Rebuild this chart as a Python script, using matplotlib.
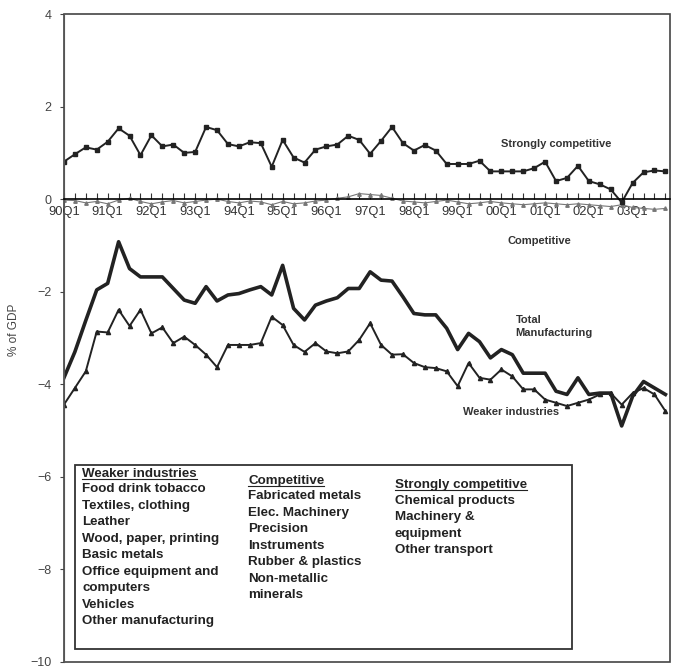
import matplotlib.pyplot as plt
import numpy as np
from matplotlib.lines import Line2D
from matplotlib.patches import Rectangle

plt.rcParams['font.family'] = ['Liberation Sans', 'DejaVu Sans']

# quarterly data, 1990Q1 - 2003Q4, % of GDP
strongly = [0.81, 0.97, 1.12, 1.07, 1.24, 1.53, 1.37, 0.95, 1.38, 1.14,
            1.18, 1.00, 1.02, 1.56, 1.49, 1.19, 1.14, 1.23, 1.21, 0.70,
            1.28, 0.90, 0.79, 1.07, 1.14, 1.18, 1.37, 1.28, 0.98, 1.26,
            1.56, 1.21, 1.05, 1.17, 1.05, 0.76, 0.76, 0.76, 0.83, 0.60,
            0.60, 0.60, 0.60, 0.67, 0.81, 0.39, 0.46, 0.72, 0.39, 0.32,
            0.21, -0.07, 0.35, 0.58, 0.62, 0.60]
competitive = [-0.02, -0.03, -0.08, -0.05, -0.10, -0.02, 0.02, -0.05, -0.10, -0.06,
               -0.03, -0.08, -0.05, -0.02, 0.00, -0.05, -0.08, -0.04, -0.06, -0.12,
               -0.05, -0.10, -0.08, -0.04, -0.02, 0.02, 0.05, 0.12, 0.10, 0.08,
               0.02, -0.04, -0.06, -0.08, -0.05, -0.02, -0.06, -0.10, -0.08, -0.05,
               -0.08, -0.10, -0.12, -0.10, -0.08, -0.10, -0.12, -0.10, -0.12, -0.14,
               -0.16, -0.12, -0.18, -0.20, -0.22, -0.20]
total = [-3.86, -3.30, -2.62, -1.96, -1.82, -0.92, -1.50, -1.68, -1.68, -1.68,
         -1.93, -2.18, -2.25, -1.89, -2.20, -2.07, -2.04, -1.96, -1.89, -2.07,
         -1.43, -2.36, -2.61, -2.29, -2.20, -2.13, -1.93, -1.93, -1.57, -1.75,
         -1.77, -2.11, -2.47, -2.50, -2.50, -2.79, -3.25, -2.90, -3.08, -3.43,
         -3.25, -3.36, -3.76, -3.76, -3.76, -4.15, -4.22, -3.86, -4.22, -4.19,
         -4.19, -4.90, -4.26, -3.94, -4.08, -4.22]
weaker = [-4.44, -4.08, -3.72, -2.86, -2.88, -2.39, -2.74, -2.39, -2.90, -2.77,
          -3.11, -2.97, -3.15, -3.36, -3.63, -3.15, -3.15, -3.15, -3.11, -2.54,
          -2.72, -3.15, -3.30, -3.11, -3.29, -3.33, -3.29, -3.04, -2.68, -3.15,
          -3.36, -3.35, -3.54, -3.63, -3.65, -3.72, -4.04, -3.54, -3.86, -3.90,
          -3.68, -3.83, -4.11, -4.11, -4.33, -4.40, -4.47, -4.40, -4.33, -4.22,
          -4.19, -4.44, -4.19, -4.08, -4.22, -4.58]
tick_labels = ['90Q1', '91Q1', '92Q1', '93Q1', '94Q1', '95Q1', '96Q1',
               '97Q1', '98Q1', '99Q1', '00Q1', '01Q1', '02Q1', '03Q1']

weaker_list = ['Food drink tobacco', 'Textiles, clothing', 'Leather',
               'Wood, paper, printing', 'Basic metals', 'Office equipment and',
               'computers', 'Vehicles', 'Other manufacturing']
competitive_list = ['Fabricated metals', 'Elec. Machinery', 'Precision',
                    'Instruments', 'Rubber & plastics', 'Non-metallic', 'minerals']
strongly_list = ['Chemical products', 'Machinery &', 'equipment', 'Other transport']

x = np.arange(len(strongly))
ink = '#222222'

fig = plt.figure(figsize=(6.8, 6.68), dpi=100)
ax = fig.add_axes([0.094, 0.009, 0.891, 0.970])

ax.plot(x, competitive, color='#777777', lw=0.8, marker='^', ms=2.5)
ax.plot(x, strongly, color=ink, lw=1.4, marker='s', ms=2.5)
ax.plot(x, total, color=ink, lw=2.6)
ax.plot(x, weaker, color=ink, lw=1.4, marker='^', ms=3)

ax.set_xlim(0, len(x) - 0.6)
ax.set_ylim(-10, 4)
ax.set_yticks(np.arange(-10, 5, 2))
ax.tick_params(axis='y', direction='out', length=3, labelsize=9, colors='#444444',
               width=0.8, pad=6)

# x axis along the zero line, box drawn around the plot
for s in ['top', 'right']:
    ax.spines[s].set_visible(False)
ax.spines['bottom'].set_position(('data', 0))
ax.spines['bottom'].set_linewidth(1.2)
ax.spines['left'].set_color('#555555')
ax.add_patch(Rectangle((0, 0), 1, 1, transform=ax.transAxes, fill=False,
                       lw=1.2, ec='#444444', clip_on=False))
ax.set_xticks(x, minor=True)
ax.set_xticks(x[::4])
ax.set_xticklabels(tick_labels)
ax.tick_params(axis='x', which='both', direction='in', length=4, width=0.8,
               labelsize=9.3, colors='#333333', pad=5)

ax.set_ylabel('% of GDP', fontsize=8.5, color='#444444')
ax.yaxis.set_label_coords(-0.073, 0.512)

lab = dict(fontsize=8, color='#333333', fontweight='bold')
ax.text(45, 1.19, 'Strongly competitive', ha='center', va='center', **lab)
ax.text(43.5, -0.9, 'Competitive', ha='center', va='center', **lab)
ax.text(41.3, -2.75, 'Total\nManufacturing', ha='left', va='center',
        linespacing=1.3, **lab)
ax.text(40.9, -4.6, 'Weaker industries', ha='center', va='center', **lab)

# category box
ax.add_patch(Rectangle((0.018, 0.02), 0.82, 0.284, transform=ax.transAxes,
                       fill=False, lw=1.3, ec='#333333'))
box = dict(fontsize=9.6, color='#222222', fontweight='bold', va='top',
           ha='left', transform=ax.transAxes, linespacing=1.5)
cols = [(0.030, 0.299, 0.276, 'Weaker industries', weaker_list),
        (0.304, 0.289, 0.265, 'Competitive', competitive_list),
        (0.546, 0.282, 0.258, 'Strongly competitive', strongly_list)]
heads = []
for cx, hy, iy, head, items in cols:
    h = ax.text(cx, hy, head, **box)
    heads.append(h)
    ax.text(cx, iy, '\n'.join(items), **box)

fig.canvas.draw()
rend = fig.canvas.get_renderer()
inv = fig.transFigure.inverted()
for h in heads:
    bb = h.get_window_extent(rend)
    (x0, y0), (x1, _) = inv.transform([(bb.x0, bb.y0 + 1), (bb.x1, bb.y0 + 1)])
    fig.add_artist(Line2D([x0, x1], [y0, y0], transform=fig.transFigure,
                          lw=0.8, color='#222222'))

fig.savefig('out.png', dpi=100)
